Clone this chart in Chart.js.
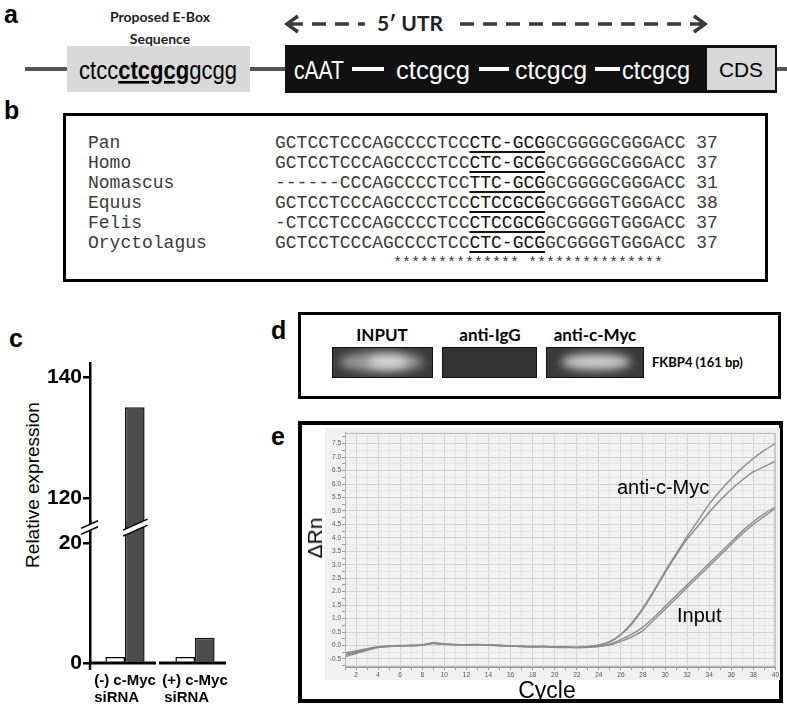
<!DOCTYPE html>
<html>
<head>
<meta charset="utf-8">
<script src="https://cdn.jsdelivr.net/npm/chart.js@4.4.0/dist/chart.umd.min.js"></script>
<style>
body { margin: 0; background: #fff; }
#fig { position: relative; width: 787px; height: 706px; overflow: hidden; font-family: "Liberation Sans", Arial, sans-serif; color: #000; }
.abs { position: absolute; }
.letter { font-weight: bold; font-size: 25px; line-height: 1; }
.cal { font-family: Lato, "Open Sans", sans-serif; font-weight: bold; }
#alnBox { left: 63px; top: 113px; width: 705px; height: 169px; border: 3px solid #000; box-sizing: border-box; }
.row { position: absolute; font-family: "Liberation Mono", monospace; font-size: 18px; color: #3a3a3a; white-space: pre; line-height: 20px; }
.row u { text-decoration: underline; text-decoration-thickness: 2px; text-underline-offset: 3px; color: #111; }
#dBox { left: 298px; top: 312px; width: 483px; height: 87px; border: 3px solid #000; box-sizing: border-box; }
.band { position: absolute; top: 347px; height: 31px; background: #3a3a3a; border: 1.5px solid #111; box-sizing: border-box; overflow: hidden; }
.glow { position: absolute; background: #d0d0d0; border-radius: 50%; filter: blur(5px); }
.bandLbl { position: absolute; top: 324px; font-size: 17px; text-align: center; width: 120px; }
#eBox { left: 298px; top: 421px; width: 485px; height: 282px; border: 4px solid #000; box-sizing: border-box; }
canvas { position: absolute; }
</style>
</head>
<body>
<div id="fig">
  <!-- a: promoter diagram -->
  <svg class="abs" style="left:0;top:0" width="787" height="100">
    <line x1="25" y1="69" x2="787" y2="69" stroke="#555" stroke-width="4"/>
    <rect x="67" y="46" width="183" height="46" fill="#d9d9d9"/>
    <text x="158" y="79" text-anchor="middle" font-size="26" font-family="Liberation Sans Narrow, Liberation Sans" textLength="158" lengthAdjust="spacingAndGlyphs">ctcc<tspan font-weight="bold" text-decoration="underline">ctcgcg</tspan>gcgg</text>
    <rect x="285" y="45" width="492" height="48" fill="#111"/>
    <rect x="707" y="48" width="68" height="42" fill="#d9d9d9"/>
    <g fill="#fff" font-size="25" font-family="Liberation Sans Narrow, Liberation Sans">
      <text x="294" y="79" textLength="50" lengthAdjust="spacingAndGlyphs">cAAT</text>
      <rect x="352" y="67" width="32" height="4"/>
      <text x="396" y="79" textLength="74" lengthAdjust="spacingAndGlyphs">ctcgcg</text>
      <rect x="479" y="67" width="30" height="4"/>
      <text x="515" y="79" textLength="72" lengthAdjust="spacingAndGlyphs">ctcgcg</text>
      <rect x="595" y="67" width="25" height="4"/>
      <text x="622" y="79" textLength="68" lengthAdjust="spacingAndGlyphs">ctcgcg</text>
    </g>
    <text x="741" y="77" text-anchor="middle" font-size="21" font-family="Liberation Sans Narrow, Liberation Sans" textLength="44" lengthAdjust="spacingAndGlyphs">CDS</text>
    <g stroke="#3a3a3a" stroke-width="3.5" fill="none">
      <polyline points="298,16 287,24 298,32"/>
      <line x1="289" y1="24" x2="365" y2="24" stroke-dasharray="14 9"/>
      <line x1="460" y1="24" x2="703" y2="24" stroke-dasharray="14 9"/>
      <polyline points="694,16 705,24 694,32"/>
    </g>
    <text x="410" y="31" text-anchor="middle" font-size="21" font-family="Lato" font-weight="bold" fill="#222">5′ UTR</text>
  </svg>
  <div class="abs letter" style="left:4px;top:2px">a</div>
  <div class="abs cal" style="left:95px;top:6px;width:130px;text-align:center;font-size:14px;line-height:22px;color:#222">Proposed E-Box<br>Sequence</div>

  <!-- b: alignment -->
  <div class="abs letter" style="left:4px;top:98px">b</div>
  <div class="abs" id="alnBox"></div>
  <div id="aln"></div>

  <!-- c: relative expression -->
  <div class="abs letter" style="left:9px;top:326px">c</div>
  <div class="abs" style="left:33px;top:485px;transform:translate(-50%,-50%) rotate(-90deg);font-size:19px;white-space:nowrap">Relative expression</div>
  <canvas id="cTop" width="240" height="212" style="left:0;top:330px"></canvas>
  <canvas id="cBot" width="240" height="198" style="left:0;top:508px"></canvas>

  <!-- d: ChIP gel -->
  <div class="abs letter" style="left:271px;top:318px">d</div>
  <div class="abs" id="dBox"></div>
  <div class="bandLbl cal" style="left:322px">INPUT</div>
  <div class="bandLbl cal" style="left:430px">anti-IgG</div>
  <div class="bandLbl cal" style="left:535px">anti-c-Myc</div>
  <div class="band" style="left:332px;width:101px"><div class="glow" style="left:6px;top:4px;width:85px;height:20px;background:#9a9a9a"></div><div class="glow" style="left:35px;top:8px;width:40px;height:12px;background:#e0e0e0"></div></div>
  <div class="band" style="left:442px;width:95px;background:#333"></div>
  <div class="band" style="left:546px;width:98px"><div class="glow" style="left:14px;top:6px;width:70px;height:16px"></div></div>
  <div class="abs cal" style="left:652px;top:354px;font-size:13px">FKBP4 (161 bp)</div>

  <!-- e: amplification plot -->
  <div class="abs letter" style="left:271px;top:424px">e</div>
  <div class="abs" id="eBox"></div>
  <canvas id="eChart" width="455" height="252" style="left:325px;top:428px;background:#f1f1f1"></canvas>
  <div class="abs" style="left:315px;top:538px;transform:translate(-50%,-50%) rotate(-90deg);font-size:21px">ΔRn</div>
  <div class="abs" style="left:547px;top:690px;transform:translate(-50%,-50%);font-size:23px">Cycle</div>
  <div class="abs" style="left:617px;top:476px;font-size:20px">anti-c-Myc</div>
  <div class="abs" style="left:677px;top:604px;font-size:20px">Input</div>
</div>

<script>
// b: alignment rows
const species = ['Pan', 'Homo', 'Nomascus', 'Equus', 'Felis', 'Oryctolagus'];
const seqHead = ['GCTCCTCCCAGCCCCTCC', 'GCTCCTCCCAGCCCCTCC', '------CCCAGCCCCTCC', 'GCTCCTCCCAGCCCCTCC', '-CTCCTCCCAGCCCCTCC', 'GCTCCTCCCAGCCCCTCC'];
const seqMotif = ['CTC-GCG', 'CTC-GCG', 'TTC-GCG', 'CTCCGCG', 'CTCCGCG', 'CTC-GCG'];
const seqTail = ['GCGGGGCGGGACC', 'GCGGGGCGGGACC', 'GCGGGGCGGGACC', 'GCGGGGTGGGACC', 'GCGGGGTGGGACC', 'GCGGGGTGGGACC'];
const seqLen = [37, 37, 31, 38, 37, 37];
const consensus = '************** ***************';

// c: relative expression (broken axis)
const cGroups = [['(-) c-Myc', 'siRNA    '], ['(+) c-Myc', 'siRNA    ']];
const expWhite = [1.0, 1.0];
const expDark = [135, 4.2];
const cTicksTop = [120, 140];
const cTicksBottom = [0, 20];

// e: amplification curves
const cycles = [1,2,3,4,5,6,7,8,9,10,11,12,13,14,15,16,17,18,19,20,21,22,23,24,25,26,27,28,29,30,31,32,33,34,35,36,37,38,39,40];
const myc1 = [-0.28,-0.2,-0.12,-0.05,-0.02,0.0,0.01,0.02,0.1,0.06,0.04,0.03,0.04,0.03,0.01,-0.01,-0.03,-0.04,-0.03,-0.05,-0.05,-0.06,-0.04,0.02,0.15,0.42,0.85,1.4,2.05,2.75,3.4,4.05,4.65,5.25,5.75,6.2,6.6,6.95,7.25,7.5];
const myc2 = [-0.33,-0.24,-0.14,-0.06,-0.03,-0.01,0.0,0.02,0.08,0.05,0.03,0.03,0.03,0.02,0.0,-0.02,-0.03,-0.04,-0.04,-0.06,-0.06,-0.07,-0.05,0.0,0.12,0.4,0.8,1.35,2.0,2.7,3.35,3.95,4.45,4.95,5.4,5.8,6.15,6.45,6.65,6.85];
const input1 = [-0.37,-0.27,-0.16,-0.07,-0.03,-0.01,0.0,0.02,0.09,0.05,0.03,0.02,0.03,0.02,0.0,-0.02,-0.04,-0.05,-0.04,-0.06,-0.07,-0.08,-0.06,-0.03,0.05,0.22,0.42,0.68,1.05,1.45,1.85,2.25,2.65,3.05,3.45,3.85,4.25,4.6,4.9,5.15];
const input2 = [-0.42,-0.3,-0.18,-0.08,-0.04,-0.02,-0.01,0.01,0.07,0.04,0.02,0.02,0.02,0.01,-0.01,-0.03,-0.04,-0.05,-0.05,-0.07,-0.08,-0.08,-0.07,-0.04,0.02,0.15,0.32,0.55,0.95,1.35,1.75,2.15,2.55,2.95,3.35,3.75,4.15,4.5,4.8,5.1];
const rnTicks = [-0.75,-0.5,-0.25,0,0.25,0.5,0.75,1,1.25,1.5,1.75,2,2.25,2.5,2.75,3,3.25,3.5,3.75,4,4.25,4.5,4.75,5,5.25,5.5,5.75,6,6.25,6.5,6.75,7,7.25,7.5,7.75];

let html = '';
species.forEach((s, i) => {
    const top = 133 + i * 20;
    html += `<div class="row" style="left:88px;top:${top}px">${s}</div>`;
    html += `<div class="row" style="left:275px;top:${top}px">${seqHead[i]}<u>${seqMotif[i]}</u>${seqTail[i]} ${seqLen[i]}</div>`;
});
html += `<div class="row" style="left:393px;top:254px;font-size:15px">${consensus}</div>`;
document.getElementById('aln').innerHTML = html;

Chart.defaults.font.family = '"Liberation Sans", Arial, sans-serif';
Chart.defaults.animation = false;
Chart.defaults.plugins.legend.display = false;
Chart.defaults.plugins.tooltip.enabled = false;

function barSets() {
    return [
        { data: expWhite, backgroundColor: '#fff', borderColor: '#000', borderWidth: 1.5, categoryPercentage: 0.56, barPercentage: 1 },
        { data: expDark, backgroundColor: '#4d4d4d', borderColor: '#111', borderWidth: 1.5, categoryPercentage: 0.56, barPercentage: 1 }
    ];
}

function yAxis(min, max, tickVals) {
    return {
        min: min, max: max,
        afterFit: s => { s.width = 90; },
        afterBuildTicks: s => { s.ticks = tickVals.map(v => ({ value: v })); },
        ticks: { color: '#000', font: { size: 21, weight: 'bold' }, padding: 1 },
        grid: { drawOnChartArea: false, tickLength: 7, color: '#000', lineWidth: 2.5 },
        border: { color: '#000', width: 2.5 }
    };
}

// upper part of the broken axis (chart area 363..530)
new Chart(document.getElementById('cTop'), {
    type: 'bar',
    data: { labels: cGroups, datasets: barSets() },
    options: {
        responsive: false,
        layout: { padding: { top: 33, right: 10, bottom: 0 } },
        scales: {
            x: { display: false },
            y: yAxis(115, 142.3, cTicksTop)
        }
    }
});

function slash(ctx, x0, x1, yc) {
    const rise = (x1 - x0) * 0.45, gap = 6;
    ctx.save();
    ctx.beginPath();
    ctx.moveTo(x0, yc + rise / 2 - gap / 2);
    ctx.lineTo(x1, yc - rise / 2 - gap / 2);
    ctx.lineTo(x1, yc - rise / 2 + gap / 2);
    ctx.lineTo(x0, yc + rise / 2 + gap / 2);
    ctx.closePath();
    ctx.fillStyle = '#fff';
    ctx.fill();
    ctx.strokeStyle = '#000';
    ctx.lineWidth = 1.5;
    ctx.beginPath();
    ctx.moveTo(x0, yc + rise / 2 - gap / 2);
    ctx.lineTo(x1, yc - rise / 2 - gap / 2);
    ctx.moveTo(x0, yc + rise / 2 + gap / 2);
    ctx.lineTo(x1, yc - rise / 2 + gap / 2);
    ctx.stroke();
    ctx.restore();
}

const splitBase = {
    id: 'splitBase',
    afterDatasetsDraw(chart) {
        const { ctx, scales: { x, y } } = chart;
        const y0 = y.getPixelForValue(0);
        ctx.save();
        ctx.strokeStyle = '#000';
        ctx.lineWidth = 3;
        cGroups.forEach((g, i) => {
            const cx = x.getPixelForValue(i);
            ctx.beginPath();
            ctx.moveTo(cx - 36, y0);
            ctx.lineTo(cx + 31, y0);
            ctx.stroke();
        });
        // y axis runs a little past the baseline
        ctx.lineWidth = 2.5;
        ctx.beginPath();
        ctx.moveTo(y.right, y0);
        ctx.lineTo(y.right, y0 + 7);
        ctx.stroke();
        ctx.restore();
    },
    afterDraw(chart) {
        const { ctx, chartArea, scales: { y } } = chart;
        const bar = chart.getDatasetMeta(1).data[0];
        const yc = chartArea.top + 6;
        slash(ctx, y.right - 9, y.right + 8, yc);
        slash(ctx, bar.x - bar.width / 2 - 2, bar.x + bar.width / 2 + 3, yc);
    }
};

// lower part of the broken axis (chart area 520..663)
new Chart(document.getElementById('cBot'), {
    type: 'bar',
    data: { labels: cGroups, datasets: barSets() },
    options: {
        responsive: false,
        layout: { padding: { top: 8, right: 10 } },
        scales: {
            x: {
                afterFit: s => { s.height = 43; },
                grid: { display: false },
                border: { display: false },
                ticks: { color: '#000', font: { size: 15, weight: 'bold', lineHeight: 1.1 }, padding: 2, maxRotation: 0, autoSkip: false }
            },
            y: yAxis(0, 23.6, cTicksBottom)
        }
    },
    plugins: [splitBase]
});

// e
const plotFrame = {
    id: 'plotFrame',
    afterDraw(chart) {
        const { ctx, chartArea: a } = chart;
        ctx.save();
        ctx.strokeStyle = '#b5b5b5';
        ctx.lineWidth = 1;
        ctx.strokeRect(a.left + 0.5, a.top + 0.5, a.width - 1, a.height - 1);
        ctx.restore();
    }
};

function curve(d) {
    return { data: d, borderColor: '#8c8c8c', borderWidth: 1.4, pointRadius: 0, tension: 0.15 };
}

new Chart(document.getElementById('eChart'), {
    type: 'line',
    data: { labels: cycles, datasets: [curve(myc1), curve(myc2), curve(input1), curve(input2)] },
    options: {
        responsive: false,
        layout: { padding: { top: 4, right: 3 } },
        scales: {
            x: {
                type: 'linear', min: 1, max: 40,
                afterFit: s => { s.height = 13; },
                afterBuildTicks: s => { s.ticks = cycles.map(v => ({ value: v })); },
                ticks: { autoSkip: false, maxRotation: 0, padding: 1, color: '#555', font: { size: 6.5 },
                    callback: v => (v % 2 === 0 ? v : '') },
                grid: { color: c => (c.tick && c.tick.value % 2 === 0 ? '#d3d3d3' : '#e4e4e4'), tickLength: 3, tickColor: '#999' },
                border: { color: '#999' }
            },
            y: {
                min: -0.8, max: 7.9,
                afterFit: s => { s.width = 20; },
                afterBuildTicks: s => { s.ticks = rnTicks.map(v => ({ value: v })); },
                ticks: { autoSkip: false, padding: 1, color: '#555', font: { size: 6.5 },
                    callback: v => (Math.abs(v * 2 - Math.round(v * 2)) < 1e-6 ? v.toFixed(1) : '') },
                grid: { color: c => (c.tick && Math.abs(c.tick.value * 2 - Math.round(c.tick.value * 2)) < 1e-6 ? '#d3d3d3' : '#e4e4e4'), tickLength: 3, tickColor: '#999' },
                border: { color: '#999' }
            }
        }
    },
    plugins: [plotFrame]
});
</script>
</body>
</html>
